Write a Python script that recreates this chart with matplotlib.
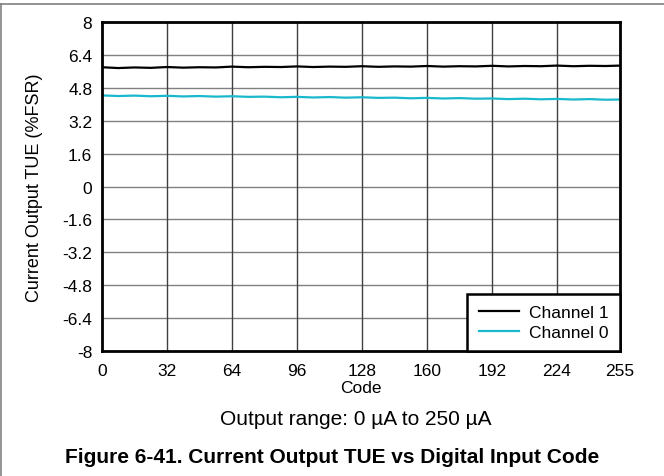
import numpy as np
import matplotlib.pyplot as plt

plt.rcParams['font.family'] = ['Liberation Sans', 'DejaVu Sans']

# codes sampled every 8 steps (plus the final code)
code = [0, 8, 16, 24, 32, 40, 48, 56, 64, 72, 80, 88, 96, 104, 112, 120, 128,
        136, 144, 152, 160, 168, 176, 184, 192, 200, 208, 216, 224, 232, 240, 248, 255]
ch1 = [5.80, 5.76, 5.79, 5.77, 5.81, 5.78, 5.80, 5.79, 5.83, 5.80, 5.82, 5.81, 5.84,
       5.81, 5.83, 5.82, 5.85, 5.82, 5.84, 5.83, 5.86, 5.83, 5.85, 5.84, 5.87, 5.84,
       5.86, 5.85, 5.88, 5.85, 5.87, 5.86, 5.88]
ch0 = [4.43, 4.40, 4.42, 4.39, 4.41, 4.38, 4.40, 4.37, 4.39, 4.36, 4.37, 4.34, 4.36,
       4.33, 4.35, 4.32, 4.34, 4.31, 4.32, 4.29, 4.31, 4.28, 4.30, 4.27, 4.28, 4.25,
       4.27, 4.24, 4.26, 4.23, 4.25, 4.22, 4.23]

xticks = [0, 32, 64, 96, 128, 160, 192, 224, 255]
yticks = [-8, -6.4, -4.8, -3.2, -1.6, 0, 1.6, 3.2, 4.8, 6.4, 8]

fig = plt.figure(figsize=(6.64, 4.77), dpi=100)
ax = fig.add_axes([102/664, 1 - 352/477, 518/664, 329/477])

ax.plot(code, ch1, color='black', lw=1.6, label='Channel 1')
ax.plot(code, ch0, color='#1ab8cc', lw=1.6, label='Channel 0')

ax.set_xlim(0, 255)
ax.set_ylim(-8, 8)
ax.set_xticks(xticks)
ax.set_yticks(yticks)
ax.set_yticklabels([f'{v:g}' for v in yticks])
ax.tick_params(length=0, labelsize=12.5)
ax.tick_params(axis='y', pad=7)
ax.tick_params(axis='x', pad=9)
for v in yticks[1:-1]:
    ax.axhline(v, color='#808080', lw=1, zorder=0)
for v in xticks[1:-1]:
    ax.axvline(v, color='#404040', lw=1, zorder=0)
for s in ax.spines.values():
    s.set_linewidth(2)

ax.set_xlabel('Code', fontsize=12.5, labelpad=1)
ax.set_ylabel('Current Output TUE (%FSR)', fontsize=13, labelpad=14)

leg = ax.legend(loc='lower right', fontsize=12.5, fancybox=False, framealpha=1,
                edgecolor='black', borderaxespad=0, handlelength=2.3,
                borderpad=0.65, labelspacing=0.25, handletextpad=0.6)
leg.get_frame().set_linewidth(1.8)

fig.text(356/664, 1 - 420/477, 'Output range: 0 µA to 250 µA', ha='center',
         va='center', fontsize=15)
fig.text(332/664, 1 - 458/477, 'Figure 6-41. Current Output TUE vs Digital Input Code',
         ha='center', va='center', fontsize=15, fontweight='bold')

# page frame lines
fig.add_artist(plt.Line2D([0, 1], [1 - 5/477, 1 - 5/477], color='#808080', lw=1.2))
fig.add_artist(plt.Line2D([0.5/664, 0.5/664], [0, 1 - 5/477], color='#808080', lw=1.2))

fig.savefig('out.png', dpi=100)
